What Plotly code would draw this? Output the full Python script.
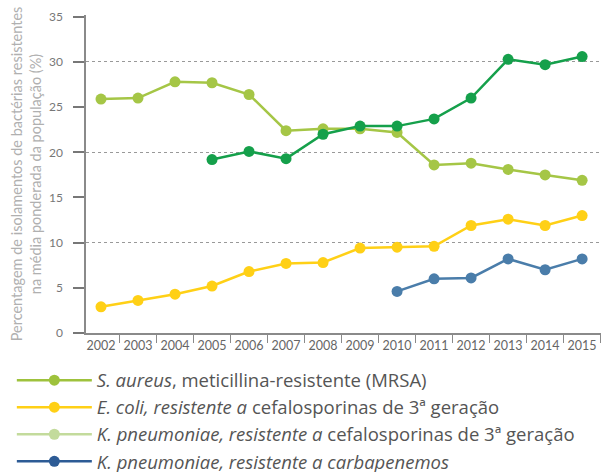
import plotly.graph_objects as go

years = [str(y) for y in range(2002, 2016)]

s_aureus = [25.9, 26.0, 27.8, 27.7, 26.4, 22.4, 22.6, 22.6, 22.2, 18.6, 18.8, 18.1, 17.5, 16.9]
k_pneu_ceph_years = years[3:]
k_pneu_ceph = [19.2, 20.1, 19.3, 22.0, 22.9, 22.9, 23.7, 26.0, 30.3, 29.7, 30.6]
e_coli = [2.9, 3.6, 4.3, 5.2, 6.8, 7.7, 7.8, 9.4, 9.5, 9.6, 11.9, 12.6, 11.9, 13.0]
k_pneu_carb_years = years[8:]
k_pneu_carb = [4.6, 6.0, 6.1, 8.2, 7.0, 8.2]

y_ticks = [0, 5, 10, 15, 20, 25, 30, 35]

legend_names = [
    "<i>S. aureus</i>, meticillina-resistente (MRSA)",
    "<i>E. coli, resistente a</i> cefalosporinas de 3ª geração",
    "<i>K. pneumoniae, resistente a</i> cefalosporinas de 3ª geração",
    "<i>K. pneumoniae, resistente a carbapenemos</i>",
]
legend_colors = ["#9EC23C", "#FFD016", "#C3DB9C", "#2D5B95"]

fig = go.Figure()

series = [
    (years, s_aureus, "#A5C646"),
    (k_pneu_ceph_years, k_pneu_ceph, "#15A04B"),
    (years, e_coli, "#FFD016"),
    (k_pneu_carb_years, k_pneu_carb, "#4A7DAA"),
]
for xs, ys, col in series:
    fig.add_trace(go.Scatter(
        x=xs, y=ys, mode="lines+markers",
        line=dict(color=col, width=2.5),
        marker=dict(color=col, size=11),
        showlegend=False, hoverinfo="x+y",
    ))

for name, col in zip(legend_names, legend_colors):
    fig.add_trace(go.Scatter(
        x=[None], y=[None], mode="lines+markers", name=name,
        line=dict(color=col, width=2.5),
        marker=dict(color=col, size=11),
    ))

# gridlines at 10, 20, 30 via an overlaid axis
fig.add_trace(go.Scatter(x=[None], y=[None], yaxis="y2", showlegend=False, hoverinfo="skip"))

fig.update_layout(
    width=601, height=472,
    margin=dict(l=86, r=0, t=15, b=139, autoexpand=False),
    plot_bgcolor="white", paper_bgcolor="white",
    font=dict(family="Lato, 'Open Sans', sans-serif", color="#666666"),
    xaxis=dict(
        type="category", categoryorder="array", categoryarray=years,
        range=[-0.405, 13.51], automargin=False,
        showline=True, linecolor="#8a8a8a", linewidth=1.5,
        ticks="outside", tickson="boundaries", ticklen=8, tickcolor="#8a8a8a", tickwidth=1.2,
        showgrid=False, tickfont=dict(size=12.5, color="#666666"), tickangle=0,
        zeroline=False,
    ),
    yaxis=dict(
        range=[0, 35.2], tickvals=y_ticks, automargin=False,
        showline=True, linecolor="#8a8a8a", linewidth=1.5,
        ticks="outside", ticklen=11, tickcolor="#777777", tickwidth=1.5,
        showgrid=False, zeroline=False,
        tickfont=dict(size=12, color="#777777"),
        ticklabelstandoff=8,
        title=dict(
            text="Percentagem de isolamentos de bactérias resistentes<br>na média ponderada da população (%)",
            font=dict(size=14.5, color="#b0b0b0"), standoff=4,
        ),
    ),
    yaxis2=dict(
        overlaying="y", range=[0, 35.2], tickvals=[10, 20, 30], automargin=False,
        showticklabels=False, showgrid=True, gridcolor="#999999",
        griddash="dot", gridwidth=1, showline=False, zeroline=False, ticks="",
    ),
    legend=dict(
        x=-0.144, y=-0.09, xanchor="left", yanchor="top",
        font=dict(size=18.5, color="#555555", family="'Open Sans', Lato, sans-serif"),
        bgcolor="rgba(0,0,0,0)", tracegroupgap=0, itemwidth=75,
    ),
)

fig.write_html("out.html", config={"displayModeBar": False},
               post_script="document.body.style.margin='0';")
